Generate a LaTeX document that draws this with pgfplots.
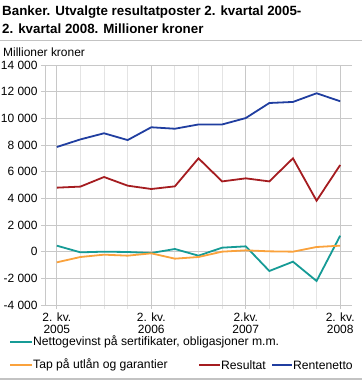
\documentclass[border=0pt]{standalone}
\usepackage{fontspec}
\setmainfont{Liberation Sans}
\usepackage{pgfplots}
\pgfplotsset{compat=1.18}
\definecolor{teal1}{RGB}{22,155,150}
\definecolor{orng}{RGB}{250,162,60}
\definecolor{rd}{RGB}{165,28,32}
\definecolor{bl}{RGB}{32,62,160}
\definecolor{gridmaj}{RGB}{200,200,200}
\definecolor{gridmin}{RGB}{228,228,228}
\definecolor{rulec}{RGB}{195,195,195}
\begin{document}
\begin{tikzpicture}
\path[use as bounding box] (0bp,0bp) rectangle (362bp,-380bp);
\node[anchor=base west, font=\fontsize{13.4}{15}\selectfont\bfseries, inner sep=0pt] at (2bp,-15bp) {Banker. Utvalgte resultatposter 2. kvartal 2005-};
\node[anchor=base west, font=\fontsize{13.4}{15}\selectfont\bfseries, inner sep=0pt] at (2bp,-33bp) {2. kvartal 2008. Millioner kroner};
\draw[rulec, line width=1.5bp] (0bp,-40.5bp) -- (362bp,-40.5bp);
\node[anchor=base west, inner sep=0pt, font=\fontsize{12}{14}\selectfont] at (3bp,-56bp) {Millioner kroner};
\begin{axis}[
  at={(45bp,-305bp)}, anchor=south west, scale only axis,
  width=307bp, height=240bp,
  xmin=-0.5, xmax=12.5, ymin=-4000, ymax=14000,
  scaled y ticks=false,
  ytick={-4000,-2000,0,2000,4000,6000,8000,10000,12000,14000},
  yticklabels={-4 000,-2 000,0,2 000,4 000,6 000,8 000,10 000,12 000,14 000},
  xtick={0,4,8,12},
  xticklabels={{2. kv.\\2005},{2. kv.\\2006},{2.kv.\\2007},{2. kv.\\2008}},
  xticklabel style={align=center, font=\fontsize{12}{12.5}\selectfont},
  yticklabel style={font=\fontsize{12}{14}\selectfont},
  minor xtick={1,2,3,5,6,7,9,10,11},
  grid=both,
  major grid style={gridmaj, line width=0.8bp},
  minor grid style={gridmin, line width=0.8bp},
  axis lines*=left,
  axis line style={gridmaj, line width=0.8bp, -},
  tick align=outside,
  major tick length=4bp, minor tick length=4bp,
  tick style={gridmaj, line width=0.8bp},
  minor tick style={gridmin, line width=0.8bp},
  clip=false,
]
\addplot[teal1, line width=1.8bp] coordinates {(0,450) (1,-50) (2,0) (3,-25) (4,-100) (5,200) (6,-300) (7,300) (8,400) (9,-1450) (10,-750) (11,-2200) (12,1200)};
\addplot[orng, line width=1.8bp] coordinates {(0,-800) (1,-400) (2,-225) (3,-300) (4,-125) (5,-525) (6,-400) (7,0) (8,100) (9,25) (10,0) (11,350) (12,450)};
\addplot[rd, line width=1.8bp] coordinates {(0,4800) (1,4880) (2,5600) (3,4950) (4,4700) (5,4900) (6,7000) (7,5270) (8,5500) (9,5270) (10,7000) (11,3820) (12,6500)};
\addplot[bl, line width=1.8bp] coordinates {(0,7850) (1,8420) (2,8880) (3,8370) (4,9330) (5,9220) (6,9540) (7,9540) (8,10020) (9,11150) (10,11230) (11,11880) (12,11280)};
\end{axis}
\begin{scope}[font=\fontsize{12.2}{14}\selectfont]
\draw[teal1, line width=2bp] (10bp,-342bp) -- (32bp,-342bp);
\node[anchor=west, inner sep=0pt] at (33bp,-342bp) {Nettogevinst på sertifikater, obligasjoner m.m.};
\draw[orng, line width=2bp] (10bp,-365bp) -- (32bp,-365bp);
\node[anchor=west, inner sep=0pt] at (33bp,-365bp) {Tap på utlån og garantier};
\draw[rd, line width=2bp] (199bp,-365bp) -- (220bp,-365bp);
\node[anchor=west, inner sep=0pt] at (221bp,-365bp) {Resultat};
\draw[bl, line width=2bp] (272bp,-365bp) -- (292bp,-365bp);
\node[anchor=west, inner sep=0pt] at (293bp,-365bp) {Rentenetto};
\end{scope}
\draw[rulec, line width=2bp] (0bp,-379bp) -- (362bp,-379bp);
\end{tikzpicture}
\end{document}
